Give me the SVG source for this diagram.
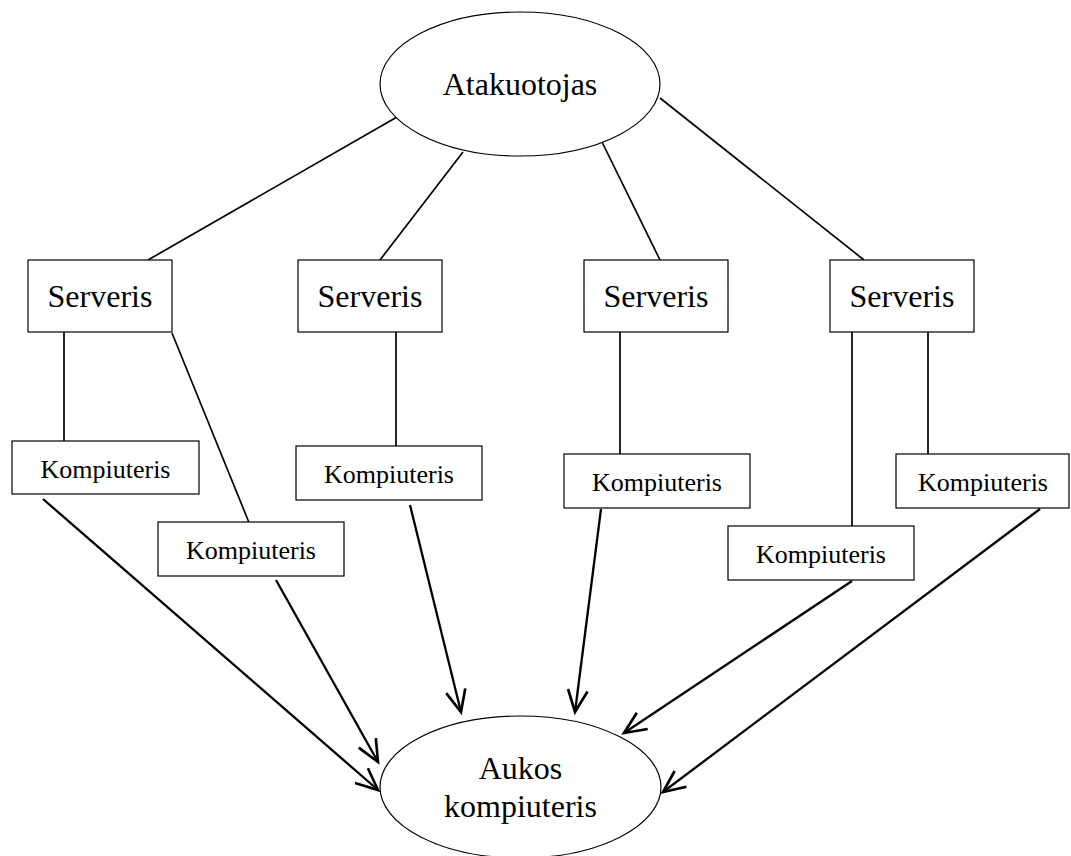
<svg xmlns="http://www.w3.org/2000/svg" width="1071" height="856" viewBox="0 0 1071 856">
  <style>
    .shape { fill: #ffffff; stroke: #000000; stroke-width: 1.2; }
    .big { font-family: "Liberation Serif", "Times New Roman", serif; font-size: 32px; fill: #000000; text-anchor: middle; }
    .small { font-family: "Liberation Serif", "Times New Roman", serif; font-size: 26px; fill: #000000; text-anchor: middle; }
    .link { stroke: #000000; stroke-width: 1.7; fill: none; }
    .arrow { stroke: #000000; stroke-width: 2.3; fill: none; marker-end: url(#open-head); }
  </style>
  <defs>
    <marker id="open-head" markerUnits="userSpaceOnUse" markerWidth="30" markerHeight="30" viewBox="-22 -12 26 24" refX="0" refY="0" orient="auto">
      <path d="M -19 -8.5 L 0 0 L -19 8.5" fill="none" stroke="#000000" stroke-width="2.3" stroke-linejoin="miter"/>
    </marker>
  </defs>

  <rect x="0" y="0" width="1071" height="856" fill="#ffffff"/>

  <!-- connectors -->
  <g id="connectors">
    <!-- attacker to servers -->
    <line class="link" x1="397" y1="117" x2="148" y2="260"/>
    <line class="link" x1="463" y1="152" x2="380" y2="260"/>
    <line class="link" x1="602" y1="142" x2="660" y2="260"/>
    <line class="link" x1="660" y1="98" x2="864" y2="260"/>
    <!-- servers to computers -->
    <line class="link" x1="64" y1="332" x2="64" y2="441"/>
    <line class="link" x1="172" y1="333" x2="250" y2="525"/>
    <line class="link" x1="396" y1="332" x2="396" y2="452"/>
    <line class="link" x1="620" y1="332" x2="620" y2="454"/>
    <line class="link" x1="852" y1="332" x2="852" y2="526"/>
    <line class="link" x1="928" y1="332" x2="928" y2="454"/>
    <!-- computers to victim -->
    <line class="arrow" x1="43" y1="499" x2="378" y2="790"/>
    <line class="arrow" x1="276" y1="580" x2="378" y2="762"/>
    <line class="arrow" x1="410" y1="505" x2="461" y2="712"/>
    <line class="arrow" x1="601" y1="509" x2="575" y2="712"/>
    <line class="arrow" x1="852" y1="581" x2="624" y2="733"/>
    <line class="arrow" x1="1040" y1="509" x2="663" y2="792"/>
  </g>

  <g id="attacker">
    <ellipse class="shape" cx="520" cy="84" rx="140" ry="72"/>
    <text class="big" x="520" y="95">Atakuotojas</text>
  </g>

  <g id="server-1">
    <rect class="shape" x="28" y="260" width="144" height="72"/>
    <text class="big" x="100" y="307">Serveris</text>
  </g>
  <g id="server-2">
    <rect class="shape" x="298" y="260" width="144" height="72"/>
    <text class="big" x="370" y="307">Serveris</text>
  </g>
  <g id="server-3">
    <rect class="shape" x="584" y="260" width="144" height="72"/>
    <text class="big" x="656" y="307">Serveris</text>
  </g>
  <g id="server-4">
    <rect class="shape" x="830" y="260" width="144" height="72"/>
    <text class="big" x="902" y="307">Serveris</text>
  </g>

  <g id="computer-1">
    <rect class="shape" x="12" y="441" width="187" height="53"/>
    <text class="small" x="105.5" y="478">Kompiuteris</text>
  </g>
  <g id="computer-2">
    <rect class="shape" x="158" y="522" width="186" height="54"/>
    <text class="small" x="251" y="559">Kompiuteris</text>
  </g>
  <g id="computer-3">
    <rect class="shape" x="296" y="446" width="186" height="54"/>
    <text class="small" x="389" y="483">Kompiuteris</text>
  </g>
  <g id="computer-4">
    <rect class="shape" x="564" y="454" width="186" height="54"/>
    <text class="small" x="657" y="491">Kompiuteris</text>
  </g>
  <g id="computer-5">
    <rect class="shape" x="728" y="526" width="186" height="54"/>
    <text class="small" x="821" y="563">Kompiuteris</text>
  </g>
  <g id="computer-6">
    <rect class="shape" x="896" y="454" width="173" height="54"/>
    <text class="small" x="983" y="491">Kompiuteris</text>
  </g>

  <g id="victim">
    <ellipse class="shape" cx="520.5" cy="787" rx="140.5" ry="71"/>
    <text class="big" x="520.5" y="779">Aukos</text>
    <text class="big" x="520.5" y="817">kompiuteris</text>
  </g>
</svg>
